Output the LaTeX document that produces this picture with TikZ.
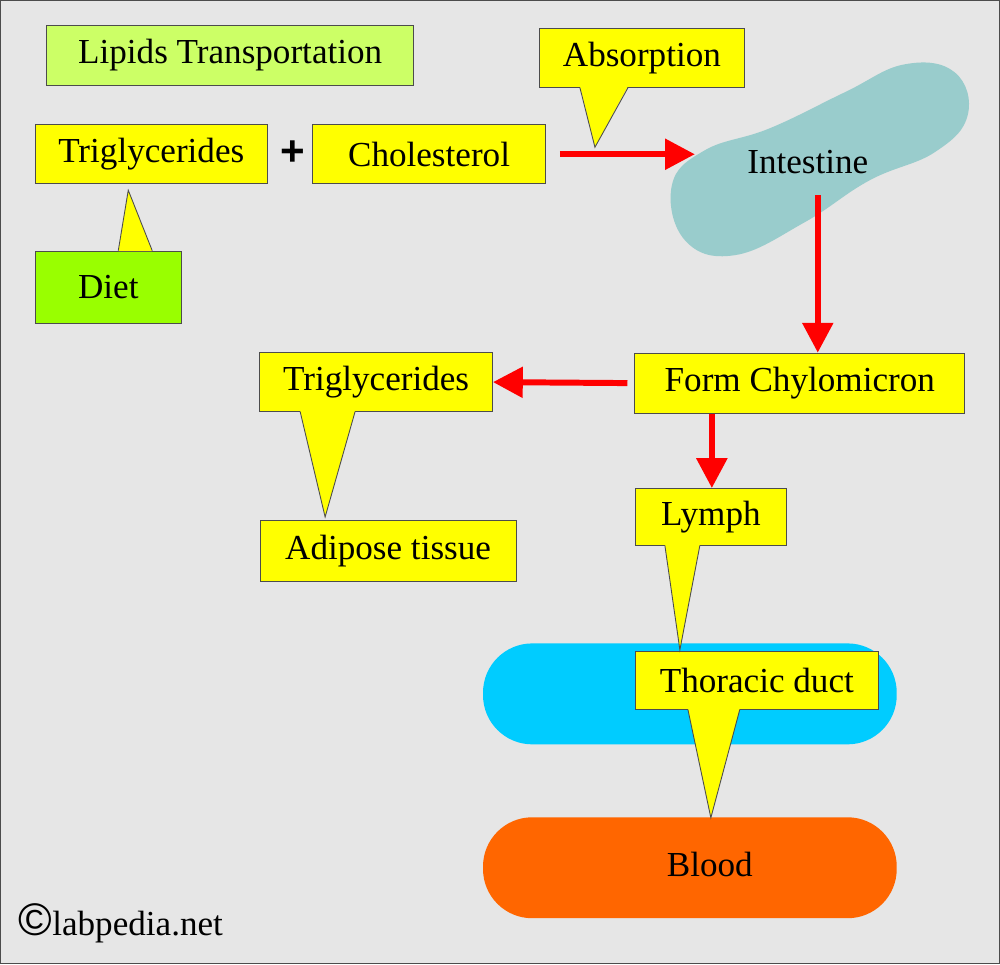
\documentclass[tikz,border=0pt]{standalone}
\usepackage{fontspec}
\setmainfont{Liberation Serif}
\newfontfamily\plusfont{Liberation Sans}
\usetikzlibrary{arrows.meta,positioning}
\definecolor{bgray}{HTML}{E6E6E6}
\definecolor{boxyellow}{HTML}{FFFF00}
\definecolor{titlegreen}{HTML}{CCFF66}
\definecolor{dietgreen}{HTML}{99FF00}
\definecolor{gutblue}{HTML}{99CCCC}
\definecolor{ductblue}{HTML}{00CCFF}
\definecolor{bloodorange}{HTML}{FF6600}
\tikzset{
    labelbox/.style={
        rectangle, draw=black!70, fill=boxyellow, line width=0.5pt,
        font=\fontsize{20}{22}\selectfont, inner sep=0pt
    },
    pillshape/.style={
        rectangle, rounded corners=28pt, minimum width=414*0.02cm,
        minimum height=101*0.02cm, font=\fontsize{20}{22}\selectfont
    },
    redarrow/.style={
        -{Triangle[length=17pt,width=17pt]}, red, line width=3.4pt
    },
    pointerfill/.style={fill=boxyellow},
    pointerline/.style={draw=black!70, line width=0.5pt}
}
\begin{document}
\begin{tikzpicture}[x=0.02cm, y=-0.02cm]
    % BACKGROUND
    \draw[fill=bgray, draw=black!70] (0,0) rectangle (1000,964);

    % TITLE
    \node[labelbox, fill=titlegreen, minimum width=367*0.02cm, minimum height=60*0.02cm] (title) at (230,55) {Lipids Transportation};

    % TOP ROW
    \node[labelbox, minimum width=232*0.02cm, minimum height=59*0.02cm] (trig) at (151,154) {Triglycerides};
    \node[font=\plusfont\bfseries\fontsize{24}{26}\selectfont] (plus) at (293,153) {+};
    \node[labelbox, minimum width=233*0.02cm, minimum height=59*0.02cm] (chol) at (429,154) {Cholesterol};
    \node[labelbox, minimum width=205*0.02cm, minimum height=59*0.02cm] (absorb) at (642,58) {Absorption};
    \node[labelbox, fill=dietgreen, minimum width=146*0.02cm, minimum height=72*0.02cm] (diet) at (108,287) {Diet};

    % INTESTINE
    \fill[gutblue] plot[smooth cycle, tension=0.7] coordinates {
        (672,185) (705,150) (770,128) (845,92) (905,64) (955,72)
        (968,115) (935,152) (870,180) (805,222) (735,255) (685,240)};
    \node[font=\fontsize{20}{22}\selectfont] (gut) at (808,162) {Intestine};

    % MIDDLE
    \node[labelbox, minimum width=330*0.02cm, minimum height=60*0.02cm] (chylo) at (800,383) {Form Chylomicron};
    \node[labelbox, minimum width=233*0.02cm, minimum height=59*0.02cm] (trig2) at (376,382) {Triglycerides};
    \node[labelbox, minimum width=256*0.02cm, minimum height=61*0.02cm] (adipose) at (388,551) {Adipose tissue};
    \node[labelbox, minimum width=151*0.02cm, minimum height=57*0.02cm] (lymph) at (711,517) {Lymph};

    % PILLS
    \node[pillshape, fill=ductblue] (duct) at (690,694) {};
    \node[pillshape, fill=bloodorange] (blood) at (690,868) {};
    \node[font=\fontsize{20}{22}\selectfont] (bloodtext) at (710,865) {Blood};
    \node[labelbox, minimum width=243*0.02cm, minimum height=58*0.02cm] (thoracic) at (757,681) {Thoracic duct};

    % POINTERS
    \coordinate (absorb_tip) at (595,147);
    \coordinate (diet_tip) at (128,190);
    \coordinate (trig2_tip) at (325,517);
    \coordinate (lymph_tip) at (680,650);
    \coordinate (thoracic_tip) at (711,818);
    \fill[pointerfill] (580,86) -- (absorb_tip) -- (628,86) -- cycle;
    \draw[pointerline] (580,87.5) -- (absorb_tip) -- (628,87.5);
    \fill[pointerfill] (118,251) -- (diet_tip) -- (152,251) -- cycle;
    \draw[pointerline] (118,250.5) -- (diet_tip) -- (152,250.5);
    \fill[pointerfill] (300,411) -- (trig2_tip) -- (355,411) -- cycle;
    \draw[pointerline] (300,411.5) -- (trig2_tip) -- (355,411.5);
    \fill[pointerfill] (665,545) -- (lymph_tip) -- (700,545) -- cycle;
    \draw[pointerline] (665,545.5) -- (lymph_tip) -- (700,545.5);
    \fill[pointerfill] (688,709) -- (thoracic_tip) -- (740,709) -- cycle;
    \draw[pointerline] (688,709.5) -- (thoracic_tip) -- (740,709.5);

    % ARROWS
    \draw[redarrow] (chol.east) ++(14,0) -- (695,154);
    \draw[redarrow] (818,195) -- (chylo.north -| 818,0);
    \draw[redarrow] (chylo.west) ++(-7,0) -- (trig2.east);
    \draw[redarrow] (chylo.south -| 712,0) -- (lymph.north -| 712,0);

    % FOOTER
    \node[anchor=west, font=\fontsize{20}{22}\selectfont, inner sep=0pt] (credit) at (18,924) {\plusfont\fontsize{26}{26}\selectfont ©\fontspec{Liberation Serif}\fontsize{20}{22}\selectfont labpedia.net};
\end{tikzpicture}
\end{document}
